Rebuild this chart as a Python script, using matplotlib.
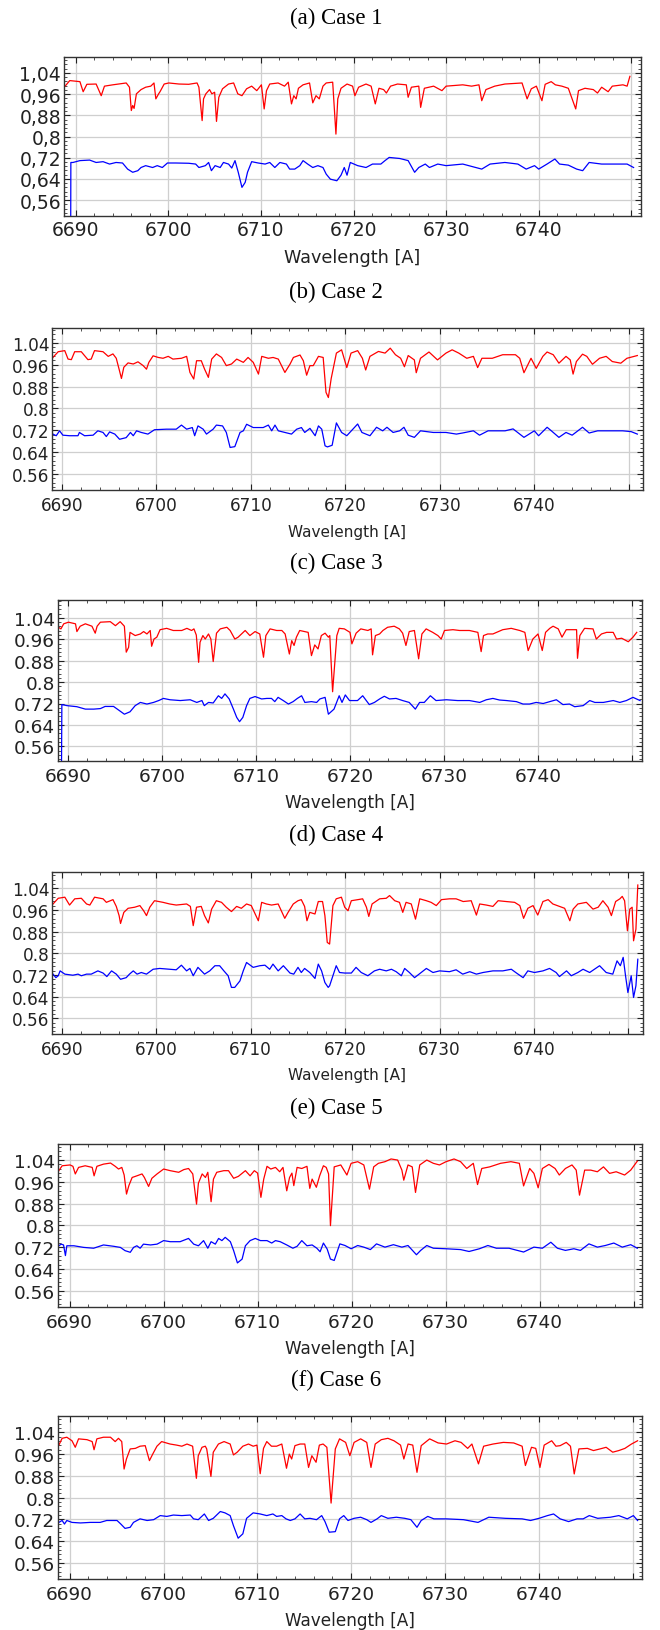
import matplotlib

matplotlib.use("Agg")
import matplotlib.pyplot as plt
import numpy as np
from matplotlib.ticker import AutoMinorLocator

# Figure size in pixels (dpi 100)
W, H = 660, 1631

captions = ["(a) Case 1", "(b) Case 2", "(c) Case 3", "(d) Case 4", "(e) Case 5", "(f) Case 6"]

# (wavelength [A], normalised flux) pairs
red_a = [
    (6688.85, 0.990), (6689.35, 1.011), (6690.45, 1.007), (6690.8, 0.969), (6691.2, 0.997),
    (6692.2, 0.998), (6692.75, 0.954), (6693.1, 0.990), (6694.0, 0.995), (6695.45, 1.002),
    (6695.8, 0.986), (6696.0, 0.898), (6696.15, 0.917), (6696.3, 0.906), (6696.55, 0.961),
    (6697.05, 0.977), (6697.55, 0.986), (6698.1, 0.990), (6698.45, 1.002), (6698.65, 0.942),
    (6698.95, 0.961), (6699.1, 0.969), (6699.55, 0.998), (6700.05, 1.002), (6701.15, 0.998),
    (6702.2, 0.997), (6703.1, 1.002), (6703.3, 0.986), (6703.65, 0.860), (6703.8, 0.942),
    (6704.05, 0.961), (6704.45, 0.977), (6704.7, 0.961), (6705.0, 0.967), (6705.2, 0.857),
    (6705.45, 0.948), (6705.85, 0.980), (6706.5, 0.998), (6707.05, 1.002), (6707.5, 0.961),
    (6707.95, 0.954), (6708.45, 0.980), (6709.0, 0.990), (6709.55, 0.973), (6710.05, 0.995),
    (6710.35, 0.904), (6710.6, 0.973), (6710.95, 0.998), (6711.85, 1.002), (6712.55, 0.990),
    (6712.95, 1.005), (6713.3, 0.923), (6713.55, 0.954), (6713.8, 0.942), (6714.05, 0.982),
    (6714.55, 0.995), (6715.25, 1.002), (6715.6, 0.927), (6715.95, 0.954), (6716.3, 0.942),
    (6716.7, 0.990), (6717.05, 1.002), (6717.75, 1.005), (6718.1, 0.809), (6718.3, 0.942),
    (6718.65, 0.982), (6719.3, 0.998), (6719.9, 0.990), (6720.15, 0.954), (6720.55, 0.986),
    (6721.35, 0.998), (6721.9, 0.990), (6722.35, 0.923), (6722.75, 0.982), (6723.25, 0.977),
    (6723.55, 0.964), (6724.0, 0.990), (6724.75, 0.998), (6725.7, 0.995), (6725.9, 0.948),
    (6726.25, 0.986), (6727.05, 0.990), (6727.25, 0.910), (6727.65, 0.982), (6728.65, 0.990),
    (6729.55, 0.973), (6730.0, 0.990), (6731.8, 0.995), (6732.75, 0.990), (6733.55, 0.995),
    (6733.85, 0.935), (6734.3, 0.977), (6735.25, 0.990), (6736.35, 0.998), (6738.2, 1.002),
    (6738.75, 0.942), (6739.2, 0.980), (6739.75, 0.990), (6740.35, 0.935), (6740.7, 0.997),
    (6741.35, 1.007), (6741.8, 0.995), (6742.5, 0.990), (6743.2, 0.982), (6744.0, 0.904),
    (6744.3, 0.973), (6745.0, 0.982), (6745.9, 0.977), (6746.35, 0.964), (6746.8, 0.986),
    (6747.5, 0.969), (6747.95, 0.990), (6749.1, 0.995), (6749.55, 0.990), (6749.85, 1.027),
]
blue_a = [
    (6689.45, 0.40), (6689.47, 0.702), (6689.7, 0.702), (6690.45, 0.709), (6691.5, 0.711),
    (6692.2, 0.702), (6692.95, 0.705), (6693.65, 0.696), (6694.35, 0.702), (6695.05, 0.700),
    (6695.6, 0.677), (6696.15, 0.665), (6696.7, 0.671), (6697.05, 0.683), (6697.55, 0.690),
    (6698.3, 0.683), (6698.8, 0.690), (6699.35, 0.683), (6699.9, 0.700), (6700.8, 0.700),
    (6702.2, 0.699), (6702.95, 0.696), (6703.3, 0.683), (6704.0, 0.690), (6704.35, 0.702),
    (6704.65, 0.671), (6705.05, 0.690), (6705.6, 0.683), (6705.95, 0.702), (6706.5, 0.696),
    (6706.85, 0.681), (6707.2, 0.709), (6707.55, 0.665), (6707.95, 0.608), (6708.3, 0.627),
    (6708.55, 0.665), (6709.0, 0.705), (6709.7, 0.700), (6710.45, 0.696), (6710.95, 0.702),
    (6711.5, 0.683), (6712.05, 0.702), (6712.75, 0.696), (6713.1, 0.677), (6713.65, 0.677),
    (6714.2, 0.690), (6714.55, 0.709), (6715.05, 0.696), (6715.6, 0.683), (6716.15, 0.690),
    (6716.7, 0.683), (6717.05, 0.658), (6717.5, 0.639), (6718.2, 0.633), (6718.65, 0.654),
    (6719.0, 0.683), (6719.3, 0.654), (6719.65, 0.702), (6720.45, 0.690), (6721.35, 0.683),
    (6722.05, 0.696), (6722.95, 0.696), (6723.4, 0.709), (6723.85, 0.721), (6725.0, 0.717),
    (6725.9, 0.709), (6726.6, 0.665), (6727.05, 0.683), (6727.75, 0.696), (6728.2, 0.683),
    (6729.1, 0.696), (6730.0, 0.690), (6731.8, 0.696), (6733.2, 0.683), (6733.85, 0.677),
    (6734.75, 0.696), (6736.35, 0.702), (6737.75, 0.696), (6738.65, 0.677), (6739.55, 0.690),
    (6740.0, 0.677), (6740.9, 0.696), (6741.75, 0.715), (6742.25, 0.696), (6743.2, 0.692),
    (6744.1, 0.677), (6744.75, 0.671), (6745.45, 0.702), (6746.8, 0.696), (6748.2, 0.696),
    (6749.55, 0.696), (6750.25, 0.683),
]

red_b = [
    (6689.05, 0.987), (6689.6, 1.008), (6690.3, 1.012), (6690.65, 0.981), (6691.0, 0.979),
    (6691.35, 1.008), (6692.05, 1.008), (6692.75, 0.979), (6693.1, 0.981), (6693.45, 1.012),
    (6694.35, 1.008), (6694.9, 0.991), (6695.4, 1.000), (6695.75, 0.984), (6696.05, 0.944),
    (6696.3, 0.910), (6696.55, 0.951), (6697.0, 0.967), (6697.55, 0.963), (6698.05, 0.971),
    (6698.6, 0.957), (6698.95, 0.944), (6699.2, 0.969), (6699.65, 0.993), (6700.2, 0.987),
    (6700.7, 0.984), (6701.25, 0.991), (6701.75, 0.981), (6702.65, 0.984), (6703.2, 0.991),
    (6703.55, 0.932), (6703.95, 0.908), (6704.25, 0.975), (6704.75, 0.975), (6705.1, 0.944),
    (6705.5, 0.914), (6705.85, 0.981), (6706.35, 1.000), (6706.9, 0.987), (6707.4, 0.957),
    (6707.95, 0.963), (6708.5, 0.981), (6709.2, 0.969), (6709.7, 0.987), (6710.25, 0.969),
    (6710.8, 0.926), (6711.15, 0.991), (6711.85, 0.984), (6712.35, 0.987), (6712.9, 0.981),
    (6713.6, 0.932), (6714.15, 0.963), (6714.5, 0.987), (6715.2, 0.996), (6715.55, 0.975),
    (6715.9, 0.922), (6716.25, 0.957), (6716.6, 0.957), (6717.15, 0.991), (6717.65, 0.987),
    (6717.95, 0.859), (6718.2, 0.840), (6718.5, 0.910), (6719.05, 1.003), (6719.6, 1.015),
    (6720.15, 0.950), (6720.6, 1.003), (6721.3, 1.012), (6721.8, 0.984), (6722.15, 0.941),
    (6722.6, 0.991), (6723.5, 1.009), (6724.2, 1.003), (6724.75, 1.021), (6725.3, 0.997),
    (6725.85, 0.984), (6726.25, 0.953), (6726.65, 0.994), (6727.3, 0.978), (6727.5, 0.931),
    (6727.95, 0.984), (6728.85, 1.007), (6729.75, 0.978), (6730.65, 1.003), (6731.3, 1.015),
    (6732.0, 1.003), (6732.85, 0.984), (6733.55, 0.991), (6734.0, 0.950), (6734.45, 0.984),
    (6735.55, 0.984), (6736.65, 0.997), (6738.0, 0.997), (6738.45, 0.984), (6738.9, 0.931),
    (6739.65, 0.984), (6740.2, 0.947), (6740.9, 0.991), (6741.35, 1.007), (6742.0, 0.997),
    (6742.6, 0.966), (6743.35, 0.991), (6743.8, 0.978), (6744.1, 0.926), (6744.45, 0.972),
    (6745.1, 0.999), (6745.55, 0.991), (6746.15, 0.962), (6746.9, 0.984), (6747.6, 0.991),
    (6748.25, 0.972), (6749.15, 0.966), (6749.8, 0.984), (6750.9, 0.994),
]
blue_b = [
    (6689.05, 0.706), (6689.4, 0.700), (6689.75, 0.718), (6690.1, 0.702), (6690.8, 0.700),
    (6691.7, 0.700), (6691.85, 0.712), (6692.4, 0.700), (6693.3, 0.702), (6693.8, 0.718),
    (6694.35, 0.712), (6694.7, 0.697), (6695.05, 0.714), (6695.6, 0.706), (6696.1, 0.687),
    (6696.8, 0.693), (6697.25, 0.712), (6697.55, 0.700), (6697.9, 0.718), (6698.4, 0.712),
    (6699.1, 0.706), (6699.8, 0.722), (6701.05, 0.724), (6702.1, 0.724), (6702.65, 0.739),
    (6703.2, 0.724), (6703.8, 0.730), (6704.05, 0.700), (6704.4, 0.736), (6704.95, 0.724),
    (6705.3, 0.706), (6706.0, 0.724), (6706.35, 0.739), (6707.0, 0.736), (6707.4, 0.712),
    (6707.8, 0.657), (6708.3, 0.660), (6708.85, 0.712), (6709.2, 0.718), (6709.55, 0.742),
    (6710.25, 0.730), (6711.3, 0.730), (6711.85, 0.739), (6712.2, 0.718), (6712.55, 0.739),
    (6712.9, 0.718), (6713.6, 0.712), (6714.3, 0.706), (6714.85, 0.724), (6715.35, 0.730),
    (6715.7, 0.712), (6716.25, 0.727), (6716.8, 0.700), (6717.15, 0.736), (6717.5, 0.724),
    (6717.85, 0.663), (6718.1, 0.659), (6718.6, 0.665), (6719.05, 0.747), (6719.6, 0.712),
    (6720.15, 0.700), (6721.3, 0.743), (6721.75, 0.712), (6722.6, 0.700), (6723.3, 0.731),
    (6723.95, 0.718), (6724.4, 0.731), (6725.05, 0.712), (6725.75, 0.718), (6726.2, 0.731),
    (6726.65, 0.702), (6727.3, 0.694), (6727.95, 0.718), (6729.3, 0.712), (6730.65, 0.712),
    (6731.75, 0.706), (6732.4, 0.710), (6733.55, 0.718), (6734.2, 0.702), (6735.1, 0.718),
    (6736.9, 0.718), (6737.75, 0.725), (6738.9, 0.694), (6740.0, 0.718), (6740.45, 0.700),
    (6741.35, 0.731), (6741.8, 0.718), (6742.6, 0.694), (6743.35, 0.712), (6744.0, 0.702),
    (6745.1, 0.731), (6745.8, 0.710), (6746.7, 0.718), (6748.0, 0.718), (6749.35, 0.718),
    (6750.25, 0.715), (6750.9, 0.706),
]

red_c = [
    (6689.0, 1.005), (6689.25, 0.999), (6689.55, 1.018), (6690.05, 1.024), (6690.8, 1.018),
    (6690.95, 0.989), (6691.3, 1.009), (6691.85, 1.018), (6692.55, 1.009), (6692.9, 0.983),
    (6693.1, 1.009), (6693.45, 1.024), (6694.5, 1.026), (6695.05, 1.011), (6695.55, 1.026),
    (6696.0, 1.009), (6696.2, 0.912), (6696.45, 0.930), (6696.6, 0.986), (6697.15, 0.974),
    (6697.7, 0.980), (6698.05, 0.989), (6698.4, 0.980), (6698.75, 0.993), (6698.9, 0.934),
    (6699.15, 0.961), (6699.45, 0.968), (6699.8, 0.996), (6700.5, 1.001), (6701.2, 0.993),
    (6702.1, 0.993), (6702.65, 1.001), (6703.15, 0.993), (6703.4, 0.999), (6703.65, 0.976),
    (6703.9, 0.874), (6704.05, 0.949), (6704.35, 0.974), (6704.6, 0.961), (6704.95, 0.980),
    (6705.2, 0.961), (6705.45, 0.877), (6705.8, 0.983), (6706.2, 0.999), (6706.9, 1.005),
    (6707.25, 0.993), (6707.75, 0.961), (6708.1, 0.968), (6708.85, 0.993), (6709.35, 0.974),
    (6709.9, 0.989), (6710.4, 0.980), (6710.8, 0.893), (6711.05, 0.974), (6711.5, 0.999),
    (6712.2, 0.993), (6712.75, 0.993), (6713.1, 0.980), (6713.55, 0.905), (6713.8, 0.955),
    (6714.05, 0.937), (6714.3, 0.968), (6714.65, 0.993), (6715.55, 0.986), (6715.9, 0.899),
    (6716.25, 0.939), (6716.6, 0.924), (6716.95, 0.974), (6717.35, 0.983), (6717.7, 0.968),
    (6717.85, 0.974), (6718.15, 0.764), (6718.6, 0.974), (6718.85, 1.001), (6719.4, 0.999),
    (6720.0, 0.986), (6720.2, 0.943), (6720.65, 0.983), (6721.15, 0.999), (6721.9, 0.993),
    (6722.25, 0.999), (6722.4, 0.902), (6722.7, 0.974), (6723.15, 0.980), (6723.5, 0.993),
    (6724.0, 1.005), (6724.7, 1.009), (6725.25, 0.999), (6725.6, 0.983), (6725.95, 0.937),
    (6726.3, 0.989), (6726.85, 0.993), (6727.3, 0.887), (6727.65, 0.980), (6728.1, 0.999),
    (6728.8, 0.986), (6729.35, 0.974), (6729.7, 0.961), (6730.05, 0.993), (6730.95, 0.996),
    (6731.65, 0.993), (6732.7, 0.993), (6733.6, 0.986), (6733.95, 0.914), (6734.2, 0.974),
    (6734.65, 0.980), (6735.2, 0.980), (6736.25, 0.996), (6737.15, 1.001), (6738.05, 0.993),
    (6738.6, 0.986), (6738.95, 0.918), (6739.45, 0.961), (6740.0, 0.980), (6740.45, 0.918),
    (6740.8, 0.986), (6741.25, 1.001), (6741.6, 1.009), (6742.15, 0.999), (6742.55, 0.968),
    (6743.0, 0.996), (6744.1, 0.996), (6744.2, 0.889), (6744.45, 0.974), (6744.95, 1.001),
    (6745.85, 0.999), (6746.2, 0.961), (6746.75, 0.980), (6747.3, 0.986), (6748.0, 0.986),
    (6748.35, 0.961), (6748.9, 0.964), (6749.6, 0.951), (6750.1, 0.968), (6750.5, 0.986),
]
blue_c = [
    (6689.3, 0.40), (6689.35, 0.716), (6689.9, 0.712), (6690.95, 0.708), (6691.85, 0.699),
    (6692.75, 0.699), (6693.45, 0.701), (6693.95, 0.709), (6694.85, 0.709), (6695.25, 0.699),
    (6696.0, 0.680), (6696.6, 0.689), (6697.15, 0.712), (6697.7, 0.724), (6698.4, 0.718),
    (6699.1, 0.724), (6699.65, 0.731), (6700.15, 0.739), (6700.85, 0.734), (6701.95, 0.731),
    (6703.0, 0.734), (6703.7, 0.724), (6704.25, 0.731), (6704.5, 0.712), (6704.95, 0.724),
    (6705.45, 0.722), (6706.0, 0.749), (6706.35, 0.739), (6706.7, 0.756), (6707.15, 0.737),
    (6707.6, 0.699), (6707.95, 0.668), (6708.25, 0.652), (6708.6, 0.668), (6709.0, 0.712),
    (6709.35, 0.739), (6709.9, 0.746), (6710.6, 0.737), (6711.15, 0.739), (6711.65, 0.739),
    (6712.0, 0.727), (6712.35, 0.743), (6712.9, 0.731), (6713.45, 0.718), (6713.95, 0.727),
    (6714.4, 0.739), (6714.85, 0.749), (6715.2, 0.724), (6715.9, 0.727), (6716.45, 0.724),
    (6716.8, 0.737), (6717.35, 0.743), (6717.7, 0.680), (6718.3, 0.699), (6718.85, 0.749),
    (6719.15, 0.724), (6719.5, 0.752), (6719.95, 0.731), (6720.8, 0.731), (6721.35, 0.749),
    (6722.05, 0.716), (6722.6, 0.724), (6723.15, 0.737), (6723.65, 0.747), (6724.2, 0.737),
    (6724.9, 0.739), (6725.6, 0.731), (6726.3, 0.724), (6726.95, 0.699), (6727.4, 0.724),
    (6727.9, 0.724), (6728.55, 0.749), (6729.15, 0.731), (6730.25, 0.734), (6731.45, 0.731),
    (6732.7, 0.731), (6733.8, 0.724), (6734.5, 0.734), (6735.2, 0.739), (6735.9, 0.733),
    (6736.65, 0.731), (6737.7, 0.727), (6738.4, 0.718), (6739.1, 0.718), (6739.8, 0.724),
    (6740.55, 0.720), (6741.25, 0.727), (6741.95, 0.734), (6742.65, 0.716), (6743.35, 0.718),
    (6743.9, 0.708), (6744.8, 0.712), (6745.5, 0.731), (6746.05, 0.724), (6746.95, 0.724),
    (6748.0, 0.731), (6748.7, 0.724), (6749.4, 0.731), (6750.1, 0.743), (6750.85, 0.731),
]

red_d = [
    (6689.05, 0.982), (6689.6, 1.003), (6690.3, 1.007), (6690.8, 0.978), (6691.35, 1.001),
    (6692.05, 1.003), (6692.6, 0.982), (6692.95, 0.978), (6693.45, 1.007), (6694.35, 1.001),
    (6694.7, 0.988), (6695.4, 0.998), (6695.75, 0.973), (6696.05, 0.939), (6696.2, 0.910),
    (6696.55, 0.951), (6697.0, 0.966), (6697.7, 0.970), (6698.25, 0.976), (6698.65, 0.957),
    (6698.95, 0.939), (6699.3, 0.970), (6699.8, 0.994), (6700.7, 0.988), (6701.4, 0.982),
    (6702.1, 0.978), (6703.2, 0.982), (6703.6, 0.973), (6703.9, 0.902), (6704.25, 0.970),
    (6704.75, 0.973), (6705.1, 0.939), (6705.5, 0.912), (6705.85, 0.963), (6706.35, 0.994),
    (6706.9, 0.988), (6707.4, 0.970), (6707.95, 0.954), (6708.5, 0.973), (6709.0, 0.966),
    (6709.55, 0.982), (6710.05, 0.976), (6710.8, 0.920), (6711.15, 0.988), (6711.65, 0.982),
    (6712.2, 0.978), (6712.9, 0.982), (6713.6, 0.929), (6713.95, 0.951), (6714.5, 0.982),
    (6715.0, 0.994), (6715.35, 0.998), (6715.7, 0.973), (6715.95, 0.920), (6716.25, 0.951),
    (6716.8, 0.945), (6717.15, 0.991), (6717.6, 0.991), (6717.85, 0.939), (6718.1, 0.840),
    (6718.35, 0.834), (6718.7, 0.976), (6719.05, 1.001), (6719.6, 1.007), (6719.95, 0.970),
    (6720.3, 0.957), (6720.65, 0.994), (6721.35, 0.998), (6721.85, 1.001), (6722.25, 0.970),
    (6722.5, 0.936), (6722.85, 0.982), (6723.65, 1.001), (6724.35, 1.003), (6724.7, 1.013),
    (6725.25, 0.994), (6725.75, 0.988), (6726.1, 0.951), (6726.45, 0.988), (6727.0, 0.982),
    (6727.45, 0.926), (6727.9, 1.001), (6728.6, 0.994), (6729.1, 0.988), (6729.65, 0.976),
    (6730.2, 0.998), (6731.05, 1.001), (6731.75, 1.001), (6732.5, 0.991), (6733.35, 0.994),
    (6733.9, 0.941), (6734.25, 0.982), (6734.95, 0.978), (6735.65, 0.973), (6736.2, 0.994),
    (6737.05, 0.991), (6737.95, 0.988), (6738.5, 0.976), (6738.9, 0.929), (6739.35, 0.966),
    (6739.9, 0.976), (6740.4, 0.941), (6740.95, 0.991), (6741.5, 0.998), (6742.0, 0.982),
    (6742.7, 0.973), (6743.25, 0.966), (6743.8, 0.920), (6744.15, 0.963), (6744.65, 0.982),
    (6745.55, 0.988), (6746.25, 0.963), (6746.8, 0.970), (6747.3, 0.994), (6747.85, 0.970),
    (6748.2, 0.939), (6748.65, 0.991), (6749.1, 1.001), (6749.35, 1.010), (6749.6, 0.994),
    (6749.9, 0.883), (6750.15, 0.963), (6750.4, 0.970), (6750.55, 0.846), (6750.8, 0.889),
    (6751.0, 1.052),
]
blue_d = [
    (6689.05, 0.723), (6689.35, 0.710), (6689.6, 0.717), (6689.8, 0.735), (6690.3, 0.723),
    (6691.15, 0.719), (6691.7, 0.723), (6692.05, 0.717), (6692.6, 0.723), (6693.1, 0.723),
    (6693.8, 0.735), (6694.35, 0.727), (6694.75, 0.714), (6695.25, 0.735), (6695.75, 0.723),
    (6696.2, 0.704), (6696.8, 0.710), (6697.15, 0.723), (6697.55, 0.735), (6697.95, 0.723),
    (6698.4, 0.729), (6698.95, 0.723), (6699.65, 0.741), (6700.35, 0.744), (6701.4, 0.741),
    (6702.1, 0.739), (6702.65, 0.756), (6703.2, 0.735), (6703.55, 0.744), (6703.9, 0.717),
    (6704.4, 0.748), (6705.1, 0.723), (6705.65, 0.735), (6706.2, 0.754), (6706.7, 0.754),
    (6707.15, 0.735), (6707.6, 0.717), (6707.95, 0.674), (6708.3, 0.674), (6708.85, 0.698),
    (6709.2, 0.735), (6709.55, 0.766), (6710.25, 0.748), (6710.95, 0.754), (6711.5, 0.756),
    (6712.0, 0.741), (6712.35, 0.760), (6712.9, 0.735), (6713.45, 0.754), (6714.15, 0.727),
    (6714.55, 0.723), (6715.0, 0.748), (6715.35, 0.729), (6715.7, 0.744), (6716.25, 0.729),
    (6716.8, 0.707), (6717.15, 0.760), (6717.5, 0.735), (6717.85, 0.692), (6718.2, 0.674),
    (6718.35, 0.680), (6718.7, 0.717), (6719.05, 0.754), (6719.4, 0.729), (6719.95, 0.727),
    (6720.65, 0.727), (6721.15, 0.748), (6721.7, 0.729), (6722.4, 0.717), (6723.1, 0.735),
    (6723.65, 0.741), (6724.35, 0.735), (6724.9, 0.741), (6725.4, 0.732), (6725.95, 0.717),
    (6726.3, 0.744), (6726.8, 0.729), (6727.35, 0.710), (6728.05, 0.729), (6728.6, 0.744),
    (6729.3, 0.729), (6730.0, 0.735), (6731.05, 0.732), (6731.75, 0.739), (6732.45, 0.723),
    (6733.2, 0.732), (6733.9, 0.723), (6734.6, 0.729), (6735.65, 0.735), (6736.7, 0.735),
    (6737.6, 0.741), (6738.15, 0.727), (6738.85, 0.710), (6739.35, 0.735), (6740.05, 0.729),
    (6740.95, 0.735), (6741.65, 0.744), (6742.35, 0.729), (6742.7, 0.714), (6743.45, 0.735),
    (6743.95, 0.717), (6744.65, 0.729), (6745.2, 0.741), (6745.9, 0.729), (6746.95, 0.754),
    (6747.65, 0.729), (6748.35, 0.723), (6748.8, 0.772), (6749.15, 0.754), (6749.45, 0.785),
    (6749.7, 0.717), (6749.95, 0.655), (6750.3, 0.717), (6750.55, 0.637), (6750.8, 0.680),
    (6751.0, 0.778),
]

red_e = [
    (6688.85, 1.001), (6689.2, 1.019), (6690.05, 1.022), (6690.35, 1.017), (6690.6, 0.989),
    (6690.95, 1.013), (6691.65, 1.019), (6692.4, 1.013), (6692.6, 0.982), (6692.9, 1.017),
    (6693.6, 1.025), (6694.35, 1.029), (6694.85, 1.017), (6695.2, 1.007), (6695.55, 1.013),
    (6695.8, 0.985), (6696.05, 0.915), (6696.3, 0.946), (6696.65, 0.976), (6697.15, 0.982),
    (6697.7, 0.989), (6697.95, 0.976), (6698.4, 0.943), (6698.75, 0.973), (6699.3, 0.989),
    (6700.0, 1.007), (6700.7, 1.001), (6701.6, 0.995), (6702.15, 1.005), (6702.65, 1.009),
    (6703.1, 0.989), (6703.5, 0.878), (6703.7, 0.955), (6704.1, 0.989), (6704.45, 0.976),
    (6704.7, 0.995), (6705.05, 0.887), (6705.3, 0.970), (6705.65, 0.995), (6706.4, 1.001),
    (6706.9, 1.001), (6707.45, 0.973), (6707.95, 0.980), (6708.7, 1.001), (6709.2, 0.982),
    (6709.65, 1.001), (6710.0, 0.992), (6710.35, 0.903), (6710.65, 0.970), (6711.0, 1.017),
    (6711.4, 1.007), (6711.9, 1.013), (6712.35, 0.997), (6712.7, 1.013), (6713.1, 0.927),
    (6713.4, 0.976), (6713.65, 0.992), (6713.85, 0.946), (6714.2, 1.013), (6714.7, 1.009),
    (6715.25, 1.017), (6715.55, 0.936), (6715.8, 0.970), (6716.25, 0.940), (6716.6, 0.982),
    (6717.0, 1.019), (6717.3, 1.013), (6717.55, 0.989), (6717.75, 0.799), (6718.15, 1.015),
    (6718.85, 1.022), (6719.5, 0.985), (6719.95, 1.028), (6720.65, 1.034), (6721.3, 1.022),
    (6721.9, 0.933), (6722.35, 1.015), (6722.85, 1.028), (6723.55, 1.034), (6724.2, 1.044),
    (6724.9, 1.040), (6725.35, 1.003), (6725.55, 0.966), (6726.0, 1.022), (6726.45, 1.015),
    (6726.8, 0.921), (6727.25, 1.022), (6728.0, 1.040), (6728.7, 1.028), (6729.35, 1.022),
    (6730.05, 1.034), (6730.9, 1.044), (6731.6, 1.034), (6732.25, 1.009), (6732.95, 1.028),
    (6733.4, 0.950), (6733.85, 1.009), (6734.7, 1.015), (6735.85, 1.028), (6736.95, 1.034),
    (6737.85, 1.028), (6738.3, 0.945), (6738.95, 1.009), (6739.4, 0.991), (6739.85, 0.938),
    (6740.3, 1.009), (6741.0, 1.024), (6741.65, 1.009), (6742.1, 0.985), (6742.75, 1.009),
    (6743.45, 1.022), (6743.9, 1.003), (6744.25, 0.911), (6744.8, 1.003), (6745.45, 1.003),
    (6746.15, 0.997), (6746.8, 1.015), (6747.45, 0.991), (6748.15, 0.997), (6749.05, 0.985),
    (6749.7, 1.003), (6750.4, 1.036),
]
blue_e = [
    (6688.85, 0.725), (6689.1, 0.731), (6689.35, 0.728), (6689.55, 0.689), (6689.7, 0.725),
    (6690.45, 0.725), (6691.5, 0.719), (6692.55, 0.716), (6693.6, 0.728), (6694.7, 0.723),
    (6695.4, 0.719), (6695.9, 0.707), (6696.45, 0.701), (6696.8, 0.719), (6697.15, 0.725),
    (6697.5, 0.716), (6697.85, 0.731), (6698.6, 0.728), (6699.3, 0.731), (6700.0, 0.744),
    (6700.7, 0.740), (6701.75, 0.740), (6702.65, 0.752), (6703.2, 0.731), (6703.7, 0.725),
    (6704.25, 0.744), (6704.7, 0.716), (6705.05, 0.740), (6705.5, 0.731), (6705.85, 0.752),
    (6706.2, 0.744), (6706.55, 0.756), (6707.1, 0.740), (6707.45, 0.707), (6707.85, 0.662),
    (6708.35, 0.676), (6708.7, 0.725), (6709.2, 0.744), (6709.75, 0.752), (6710.3, 0.744),
    (6711.0, 0.744), (6711.5, 0.735), (6711.9, 0.744), (6712.4, 0.740), (6713.1, 0.728),
    (6713.75, 0.716), (6714.2, 0.723), (6714.7, 0.744), (6715.25, 0.725), (6715.8, 0.728),
    (6716.3, 0.716), (6716.65, 0.703), (6717.0, 0.735), (6717.4, 0.713), (6717.75, 0.676),
    (6718.15, 0.671), (6718.75, 0.732), (6719.3, 0.726), (6719.95, 0.714), (6720.65, 0.726),
    (6721.3, 0.720), (6722.0, 0.711), (6722.65, 0.732), (6723.55, 0.720), (6724.45, 0.729),
    (6725.35, 0.720), (6726.0, 0.726), (6726.9, 0.692), (6727.35, 0.708), (6728.0, 0.726),
    (6728.7, 0.716), (6730.05, 0.714), (6731.6, 0.711), (6732.5, 0.704), (6733.6, 0.714),
    (6734.5, 0.726), (6735.4, 0.716), (6736.75, 0.716), (6738.3, 0.702), (6739.4, 0.720),
    (6740.3, 0.716), (6741.2, 0.738), (6741.9, 0.716), (6742.75, 0.708), (6743.65, 0.714),
    (6744.35, 0.708), (6745.25, 0.732), (6746.15, 0.720), (6747.0, 0.726), (6747.9, 0.735),
    (6748.8, 0.720), (6749.7, 0.729), (6750.4, 0.716),
]

red_f = [
    (6688.85, 0.993), (6689.2, 1.018), (6689.7, 1.022), (6690.25, 1.009), (6690.6, 0.985),
    (6690.95, 1.016), (6691.85, 1.013), (6692.4, 1.006), (6692.6, 0.976), (6692.9, 1.016),
    (6693.6, 1.022), (6694.35, 1.022), (6694.85, 1.006), (6695.2, 1.018), (6695.55, 1.006),
    (6695.8, 0.905), (6696.05, 0.942), (6696.45, 0.979), (6697.0, 0.981), (6697.5, 0.989),
    (6698.05, 0.991), (6698.5, 0.936), (6698.85, 0.960), (6699.3, 0.989), (6699.8, 1.006),
    (6700.7, 0.997), (6701.4, 0.993), (6701.95, 0.989), (6702.5, 0.997), (6703.1, 0.989),
    (6703.5, 0.871), (6703.7, 0.954), (6704.1, 0.985), (6704.45, 0.989), (6704.6, 0.979),
    (6705.05, 0.878), (6705.3, 0.967), (6705.85, 0.997), (6706.45, 1.006), (6707.1, 0.997),
    (6707.45, 0.957), (6707.85, 0.967), (6708.45, 0.989), (6709.05, 0.997), (6709.55, 0.989),
    (6709.95, 0.993), (6710.3, 0.888), (6710.65, 0.981), (6711.0, 1.006), (6711.5, 0.989),
    (6712.05, 0.989), (6712.6, 0.997), (6713.1, 0.908), (6713.4, 0.960), (6713.65, 0.942),
    (6714.0, 0.991), (6714.55, 0.997), (6715.05, 0.997), (6715.45, 0.911), (6715.8, 0.954),
    (6716.25, 0.930), (6716.6, 0.993), (6717.0, 0.997), (6717.4, 0.985), (6717.85, 0.780),
    (6718.3, 0.979), (6718.75, 1.016), (6719.4, 1.003), (6719.85, 0.954), (6720.3, 1.003),
    (6721.0, 1.016), (6721.65, 1.003), (6722.1, 0.911), (6722.55, 0.997), (6723.2, 1.013),
    (6723.9, 1.018), (6724.55, 1.009), (6725.25, 0.993), (6725.6, 0.942), (6726.05, 0.997),
    (6726.55, 0.993), (6727.0, 0.893), (6727.45, 0.991), (6728.35, 1.016), (6729.25, 1.001),
    (6730.15, 0.997), (6731.05, 1.009), (6731.7, 1.003), (6732.4, 0.981), (6732.85, 0.997),
    (6733.55, 0.924), (6734.1, 0.989), (6735.1, 0.997), (6736.2, 1.003), (6737.3, 1.001),
    (6738.2, 0.989), (6738.55, 0.918), (6739.2, 0.985), (6739.65, 0.981), (6740.1, 0.911),
    (6740.55, 0.993), (6741.35, 1.009), (6741.8, 0.989), (6742.25, 0.991), (6742.9, 1.003),
    (6743.35, 0.989), (6743.75, 0.887), (6744.25, 0.979), (6745.15, 0.981), (6745.8, 0.973),
    (6746.5, 0.979), (6747.15, 0.985), (6747.85, 0.967), (6748.5, 0.973), (6749.15, 0.981),
    (6749.85, 0.997), (6750.5, 1.009),
]
blue_f = [
    (6688.85, 0.709), (6689.2, 0.716), (6689.45, 0.703), (6689.7, 0.716), (6690.25, 0.709),
    (6691.15, 0.707), (6692.2, 0.709), (6693.25, 0.709), (6693.95, 0.716), (6695.05, 0.716),
    (6695.45, 0.703), (6695.9, 0.687), (6696.45, 0.691), (6696.8, 0.709), (6697.5, 0.722),
    (6698.25, 0.716), (6698.95, 0.719), (6699.65, 0.734), (6700.35, 0.731), (6701.05, 0.736),
    (6701.95, 0.734), (6702.85, 0.736), (6703.2, 0.722), (6703.7, 0.719), (6704.35, 0.740),
    (6704.8, 0.716), (6705.3, 0.724), (6706.05, 0.749), (6706.55, 0.744), (6707.1, 0.734),
    (6707.45, 0.697), (6707.95, 0.651), (6708.45, 0.667), (6708.85, 0.724), (6709.55, 0.744),
    (6710.3, 0.740), (6711.0, 0.734), (6711.65, 0.740), (6712.05, 0.731), (6712.6, 0.734),
    (6713.05, 0.722), (6713.5, 0.716), (6714.0, 0.722), (6714.55, 0.740), (6715.05, 0.722),
    (6715.6, 0.724), (6716.3, 0.719), (6716.85, 0.734), (6717.2, 0.712), (6717.65, 0.673),
    (6718.3, 0.675), (6718.75, 0.722), (6719.2, 0.734), (6719.65, 0.716), (6720.3, 0.724),
    (6721.0, 0.728), (6721.65, 0.719), (6722.1, 0.709), (6722.75, 0.722), (6723.2, 0.734),
    (6723.9, 0.724), (6724.8, 0.728), (6725.7, 0.724), (6726.35, 0.719), (6727.0, 0.691),
    (6727.45, 0.716), (6728.15, 0.731), (6728.8, 0.722), (6730.15, 0.722), (6731.95, 0.719),
    (6733.5, 0.709), (6734.65, 0.728), (6736.4, 0.724), (6738.2, 0.722), (6739.1, 0.716),
    (6740.0, 0.724), (6740.9, 0.734), (6741.55, 0.740), (6742.25, 0.722), (6743.15, 0.712),
    (6744.05, 0.722), (6744.7, 0.722), (6745.35, 0.734), (6746.25, 0.724), (6747.6, 0.728),
    (6748.5, 0.734), (6749.4, 0.722), (6750.05, 0.734), (6750.5, 0.716),
]

red_series = [red_a, red_b, red_c, red_d, red_e, red_f]
blue_series = [blue_a, blue_b, blue_c, blue_d, blue_e, blue_f]

ytick_vals = [0.56, 0.64, 0.72, 0.8, 0.88, 0.96, 1.04]
ytick_text = ["0.56", "0.64", "0.72", "0.8", "0.88", "0.96", "1.04"]
xtick_vals = [6690, 6700, 6710, 6720, 6730, 6740, 6750]
xtick_text = ["6690", "6700", "6710", "6720", "6730", "6740", ""]

# pixel layout: left, right, top, bottom, caption centre y, xlim, ylim, tick fs, label fs
layout = [
    (64, 641, 58, 217, 18, (6688.73, 6751.05), (0.500, 1.100), 13.5, 12.7),
    (52, 643, 329, 491, 292, (6688.95, 6751.50), (0.501, 1.095), 12.2, 11.0),
    (58, 642, 601, 762, 563, (6688.94, 6751.06), (0.505, 1.107), 13.3, 12.2),
    (52, 643, 873, 1035, 835, (6688.94, 6751.55), (0.502, 1.100), 12.2, 11.0),
    (58, 642, 1145, 1308, 1108, (6688.76, 6750.90), (0.500, 1.099), 13.3, 12.2),
    (58, 642, 1417, 1580, 1380, (6688.76, 6750.97), (0.501, 1.100), 13.3, 12.2),
]

fig = plt.figure(figsize=(W / 100, H / 100), dpi=100)

for i, (l, r, t, b, cy, xlim, ylim, tfs, lfs) in enumerate(layout):
    ax = fig.add_axes([l / W, 1 - b / H, (r - l) / W, (b - t) / H])
    red = np.array(red_series[i])
    blue = np.array(blue_series[i])
    ax.plot(red[:, 0], red[:, 1], color="#ff0000", lw=0.9)
    ax.plot(blue[:, 0], blue[:, 1], color="#0000ff", lw=0.9)
    ax.set_xlim(*xlim)
    ax.set_ylim(*ylim)

    ylabels = ytick_text
    if i == 0:  # first panel uses decimal commas
        ylabels = [s.replace(".", ",") for s in ytick_text]
    ax.set_yticks(ytick_vals, ylabels)
    ax.set_xticks(xtick_vals, xtick_text)
    ax.xaxis.set_minor_locator(AutoMinorLocator(5))
    ax.yaxis.set_minor_locator(AutoMinorLocator(5))
    ax.grid(True, which="major", color="#cfcfcf", lw=0.9)
    ax.set_axisbelow(True)
    ax.tick_params(which="both", direction="in", top=True, right=True, color="#333333")
    ax.tick_params(which="major", length=4, width=0.8)
    ax.tick_params(which="minor", length=2, width=0.6)
    ax.tick_params(axis="x", labelsize=tfs, pad=3 if i == 0 else 4, colors="#222222")
    ax.tick_params(axis="y", labelsize=tfs, pad=2, colors="#222222")
    for sp in ax.spines.values():
        sp.set_color("#333333")
        sp.set_linewidth(1.0)

    ax.set_xlabel("Wavelength [A]", fontsize=lfs, color="#222222")
    ax.xaxis.label.set_verticalalignment("center")
    ax.xaxis.set_label_coords(0.5, -41 / (b - t))

    fig.text(336 / W, 1 - cy / H, captions[i], ha="center", va="center",
             family="Liberation Serif", fontsize=16.5)

fig.savefig("out.png", dpi=100)
